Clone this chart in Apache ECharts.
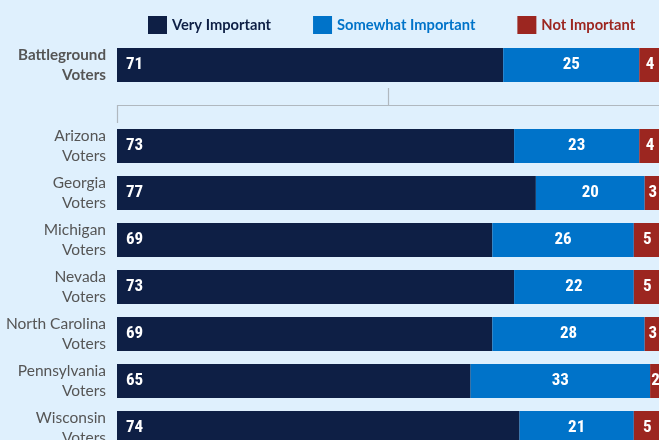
<!DOCTYPE html>
<html>
<head>
<meta charset="utf-8">
<script src="https://cdn.jsdelivr.net/npm/echarts@6/dist/echarts.min.js"></script>
<style>
html,body{margin:0;padding:0;background:#dff0fd;}
#chart{width:659px;height:440px;}
</style>
</head>
<body>
<div id="chart"></div>
<script>
const seriesNames = ['Very Important', 'Somewhat Important', 'Not Important'];
const colors = ['#0e1f45', '#0073c9', '#9c2620'];

const topCategories = ['Battleground\nVoters'];
const topVery = [71];
const topSomewhat = [25];
const topNot = [4];

const categories = ['Arizona\nVoters', 'Georgia\nVoters', 'Michigan\nVoters', 'Nevada\nVoters',
  'North Carolina\nVoters', 'Pennsylvania\nVoters', 'Wisconsin\nVoters'];
const very = [73, 77, 69, 73, 69, 65, 74];
const somewhat = [23, 20, 26, 22, 28, 33, 21];
const notImp = [4, 3, 5, 5, 3, 2, 5];

const labelFont = "'Liberation Sans Narrow', 'Roboto Condensed', Roboto, sans-serif";
const axisFont = "Lato, 'Noto Sans', sans-serif";

const chart = echarts.init(document.getElementById('chart'));

function mkSeries(name, data, idx, gi) {
  return {
    name: name,
    type: 'bar',
    stack: 'g' + gi,
    xAxisIndex: gi,
    yAxisIndex: gi,
    data: data,
    barWidth: 34,
    itemStyle: { color: colors[idx] },
    label: {
      show: true,
      position: idx === 0 ? 'insideLeft' : 'inside',
      distance: 9,
      color: '#ffffff',
      fontFamily: labelFont,
      fontSize: 17,
      fontWeight: 'bold'
    },
    emphasis: { disabled: true },
    animation: false
  };
}

const option = {
  backgroundColor: '#dff0fd',
  animation: false,
  legend: {
    top: 11,
    left: 143,
    itemWidth: 19,
    itemHeight: 18,
    itemGap: 42,
    icon: 'rect',
    selectedMode: false,
    textStyle: { fontFamily: axisFont, fontSize: 14.7, fontWeight: 'bold' },
    data: [
      { name: seriesNames[0], textStyle: { color: colors[0] } },
      { name: seriesNames[1], textStyle: { color: colors[1] } },
      { name: seriesNames[2], textStyle: { color: colors[2] } }
    ]
  },
  grid: [
    { left: 117, width: 544, top: 41.5, height: 47, outerBoundsMode: 'none', containLabel: false },
    { left: 117, width: 544, top: 122.5, height: 329, outerBoundsMode: 'none', containLabel: false }
  ],
  xAxis: [
    { type: 'value', gridIndex: 0, min: 0, max: 100, show: false },
    { type: 'value', gridIndex: 1, min: 0, max: 100, show: false }
  ],
  yAxis: [
    {
      type: 'category', gridIndex: 0, data: topCategories, inverse: true,
      axisLine: { show: false }, axisTick: { show: false },
      axisLabel: { margin: 11, color: '#555555', fontFamily: axisFont, fontSize: 15.2, fontWeight: 'bold', lineHeight: 20 }
    },
    {
      type: 'category', gridIndex: 1, data: categories, inverse: true,
      axisLine: { show: false }, axisTick: { show: false },
      axisLabel: { margin: 11, color: '#555555', fontFamily: axisFont, fontSize: 15.5, lineHeight: 20 }
    }
  ],
  graphic: [
    { type: 'line', shape: { x1: 117, y1: 105.5, x2: 659, y2: 105.5 }, style: { stroke: '#b0b8bf', lineWidth: 1.2 } },
    { type: 'line', shape: { x1: 117.5, y1: 105, x2: 117.5, y2: 123 }, style: { stroke: '#b0b8bf', lineWidth: 1.2 } },
    { type: 'line', shape: { x1: 388.5, y1: 88, x2: 388.5, y2: 106 }, style: { stroke: '#b0b8bf', lineWidth: 1.2 } }
  ],
  series: [
    mkSeries(seriesNames[0], topVery, 0, 0),
    mkSeries(seriesNames[1], topSomewhat, 1, 0),
    mkSeries(seriesNames[2], topNot, 2, 0),
    mkSeries(seriesNames[0], very, 0, 1),
    mkSeries(seriesNames[1], somewhat, 1, 1),
    mkSeries(seriesNames[2], notImp, 2, 1)
  ]
};
chart.setOption(option);
</script>
</body>
</html>
